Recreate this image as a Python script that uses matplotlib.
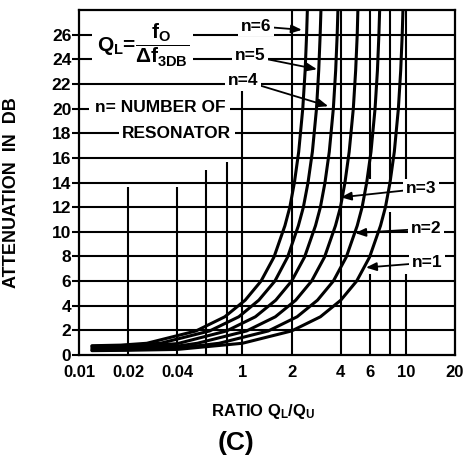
import numpy as np
import matplotlib.pyplot as plt
from matplotlib.ticker import NullLocator

plt.rcParams['font.family'] = ['Liberation Sans', 'DejaVu Sans']
plt.rcParams['font.weight'] = 'bold'
plt.rcParams['axes.labelweight'] = 'bold'
plt.rcParams['mathtext.fontset'] = 'custom'
plt.rcParams['mathtext.rm'] = 'Liberation Sans:bold'
plt.rcParams['mathtext.it'] = 'Liberation Sans:bold'
plt.rcParams['mathtext.bf'] = 'Liberation Sans:bold'

# attenuation (dB) vs ratio QL/Qu
ratio_n1 = [0.012, 0.02, 0.04, 0.1, 0.2, 0.3, 0.4, 0.5, 0.6, 0.7, 0.75, 0.8, 0.85, 0.9, 0.93, 0.95, 0.965]
atten_n1 = [0.35, 0.38, 0.45, 0.95, 1.95, 3.1, 4.45, 6.0, 7.95, 10.5, 12.0, 14.0, 16.5, 20.0, 23.1, 26.0, 29.0]

ratio_n2 = [0.012, 0.02, 0.04, 0.072, 0.144, 0.216, 0.288, 0.36, 0.432, 0.504, 0.54, 0.576, 0.612, 0.648, 0.67, 0.684, 0.695]
atten_n2 = [0.4, 0.43, 0.55, 0.95, 1.95, 3.1, 4.45, 6.0, 7.95, 10.5, 12.0, 14.0, 16.5, 20.0, 23.1, 26.0, 29.0]

ratio_n3 = [0.012, 0.02, 0.04, 0.053, 0.106, 0.159, 0.212, 0.265, 0.318, 0.371, 0.398, 0.424, 0.45, 0.477, 0.493, 0.504, 0.511]
atten_n3 = [0.5, 0.55, 0.72, 0.95, 1.95, 3.1, 4.45, 6.0, 7.95, 10.5, 12.0, 14.0, 16.5, 20.0, 23.1, 26.0, 29.0]

ratio_n4 = [0.012, 0.02, 0.04, 0.08, 0.12, 0.16, 0.2, 0.24, 0.28, 0.30, 0.32, 0.34, 0.36, 0.372, 0.38, 0.386]
atten_n4 = [0.6, 0.65, 0.92, 1.95, 3.1, 4.45, 6.0, 7.95, 10.5, 12.0, 14.0, 16.5, 20.0, 23.1, 26.0, 29.0]

ratio_n5 = [0.012, 0.02, 0.0315, 0.063, 0.095, 0.126, 0.158, 0.189, 0.22, 0.236, 0.252, 0.268, 0.284, 0.293, 0.299, 0.304]
atten_n5 = [0.7, 0.78, 0.95, 1.95, 3.1, 4.45, 6.0, 7.95, 10.5, 12.0, 14.0, 16.5, 20.0, 23.1, 26.0, 29.0]

ratio_n6 = [0.012, 0.018, 0.026, 0.052, 0.078, 0.104, 0.13, 0.156, 0.182, 0.195, 0.208, 0.221, 0.234, 0.242, 0.247, 0.251]
atten_n6 = [0.75, 0.8, 0.95, 1.95, 3.1, 4.45, 6.0, 7.95, 10.5, 12.0, 14.0, 16.5, 20.0, 23.1, 26.0, 29.0]

curves = [(ratio_n1, atten_n1), (ratio_n2, atten_n2), (ratio_n3, atten_n3),
          (ratio_n4, atten_n4), (ratio_n5, atten_n5), (ratio_n6, atten_n6)]

# tick labels exactly as printed on the chart
xtick_vals = [0.01, 0.02, 0.04, 0.1, 0.2, 0.4, 0.6, 1.0, 2.0]
xtick_text = ['0.01', '0.02', '0.04', '1', '2', '4', '6', '10', '20']
ytick_vals = list(range(0, 27, 2))

# vertical rulings (some only drawn part way up)
vgrid_x = [0.02, 0.04, 0.06, 0.08, 0.1, 0.2, 0.4, 0.6, 0.6, 0.8, 0.8, 1.0, 1.0]
vgrid_lo = [0, 0, 0, 0, 0, 0, 0, 0, 14.3, 0, 14.3, 0, 14.3]
vgrid_hi = [13.6, 13.6, 15.0, 15.7, 21.4, 28, 28, 6.6, 28, 11.6, 28, 6.6, 28]

# curve labels: text, arrow tip, text position
labels = ['n=1', 'n=2', 'n=3', 'n=4', 'n=5', 'n=6']
label_tip = [(0.57, 7.1), (0.49, 9.9), (0.40, 12.8), (0.335, 20.2), (0.286, 23.2), (0.231, 26.4)]
label_pos = [(1.35, 7.5), (1.33, 10.25), (1.24, 13.5), (0.1008, 22.3), (0.111, 24.3), (0.121, 26.7)]

fig = plt.figure(figsize=(4.66, 4.61), dpi=100)
ax = fig.add_axes([0.1695, 0.230, 0.807, 0.748])

ax.set_xscale('log')
ax.set_xlim(0.01, 2.0)
ax.set_ylim(0, 28)

ax.hlines(ytick_vals[1:], 0.01, 2.0, colors='black', lw=1.5, zorder=1)
ax.vlines(vgrid_x, vgrid_lo, vgrid_hi, colors='black', lw=1.5, zorder=1)

for r, a in curves:
    ax.plot(r, a, color='black', lw=2.2, zorder=2, solid_capstyle='round')

box = dict(boxstyle='square,pad=0.15', fc='white', ec='none')
for txt, tip, pos in zip(labels, label_tip, label_pos):
    ax.annotate(txt, xy=tip, xytext=pos, ha='center', va='center', fontsize=12.5,
                bbox=box, zorder=4,
                arrowprops=dict(arrowstyle='-|>,head_length=0.5,head_width=0.2',
                                color='black', lw=1.3, shrinkA=0, shrinkB=0))

ax.text(0.0245, 25.1, r'$\mathrm{Q_L}$=$\dfrac{\mathrm{f_O}}{\Delta\mathrm{f_{3DB}}}$',
        ha='center', va='center', fontsize=15, zorder=4,
        bbox=dict(boxstyle='square,pad=0.2', fc='white', ec='none'))
ax.text(0.0313, 20.1, 'n= NUMBER OF', ha='center', va='center', fontsize=12.5, zorder=4,
        bbox=dict(boxstyle='square,pad=0.3', fc='white', ec='none'))
ax.text(0.0397, 18.0, 'RESONATOR', ha='center', va='center', fontsize=12.5, zorder=4,
        bbox=dict(boxstyle='square,pad=0.2', fc='white', ec='none'))

ax.set_xticks(xtick_vals)
ax.set_xticklabels(xtick_text)
ax.xaxis.set_minor_locator(NullLocator())
ax.set_yticks(ytick_vals)
ax.tick_params(axis='x', length=0, pad=7, labelsize=12)
ax.tick_params(axis='y', length=5, width=1.5, pad=0.5, labelsize=12.5, direction='out')

for s in ax.spines.values():
    s.set_linewidth(1.6)

ax.set_ylabel('ATTENUATION  IN  DB', fontsize=13)
ax.yaxis.set_label_coords(-0.157, 0.47)
ax.set_xlabel(r'RATIO Q$_\mathrm{L}$/Q$_\mathrm{U}$', fontsize=12)
ax.xaxis.set_label_coords(0.49, -0.135)

fig.text(0.507, 0.04, '(C)', ha='center', va='center', fontsize=19)

fig.savefig('out.png', dpi=100)
